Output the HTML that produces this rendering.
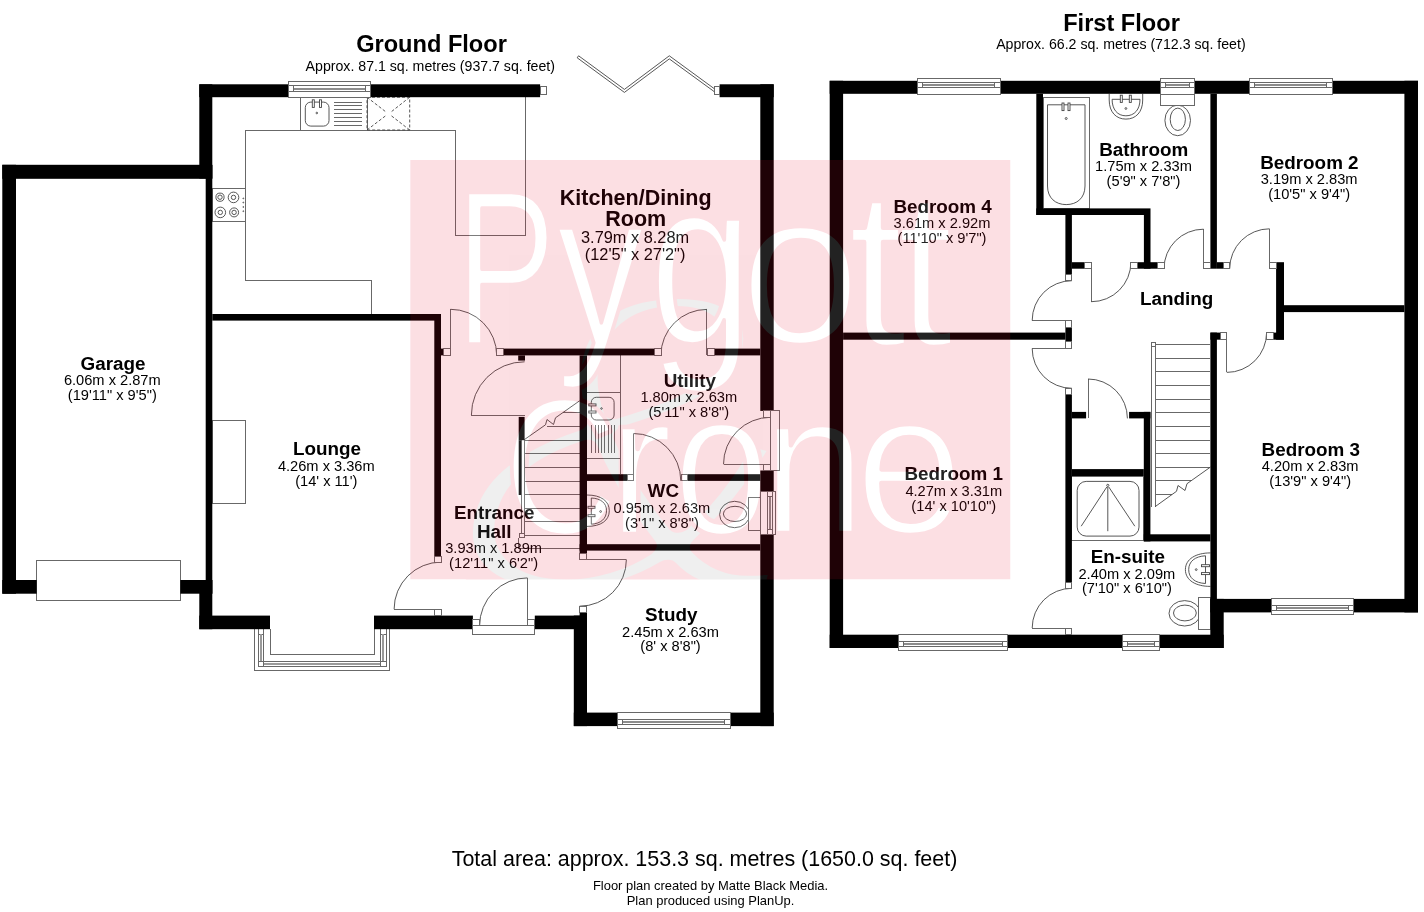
<!DOCTYPE html>
<html lang="en"><head><meta charset="utf-8"><title>Floor plan</title>
<style>
html,body{margin:0;padding:0;background:#fff;}
body{width:1424px;height:912px;overflow:hidden;}
svg{display:block;}
text{font-family:"Liberation Sans",Arial,Helvetica,sans-serif;fill:#000;}
.t{font-weight:bold;font-size:23.6px;}
.s{font-size:14.17px;}
.r{font-weight:bold;font-size:18.85px;}.rk{font-weight:bold;font-size:21.5px;}.dk{font-size:16.35px;}
.d{font-size:14.65px;}
</style></head><body>
<svg width="1424" height="912" viewBox="0 0 1424 912">
<rect width="1424" height="912" fill="#fff"/>
<g stroke="#444" stroke-width="0.9" fill="none">
<path d="M245.6 130H455.7V235.3H525.6V97.2" fill="none" shape-rendering="crispEdges" stroke="#686868" stroke-width="1"/>
<path d="M245.6 130V280H371V314" fill="none" shape-rendering="crispEdges" stroke="#686868" stroke-width="1"/>
<rect x="300.3" y="97.2" width="66.7" height="32.8" fill="none" shape-rendering="crispEdges"  stroke="#686868" stroke-width="1"/>
<rect x="305.3" y="102.1" width="23.7" height="24" rx="5.5" ry="5.5"/>
<line x1="333.7" y1="102.1" x2="362.3" y2="102.1" shape-rendering="crispEdges"  stroke="#686868" stroke-width="1"/>
<line x1="333.7" y1="105.9" x2="362.3" y2="105.9" shape-rendering="crispEdges"  stroke="#686868" stroke-width="1"/>
<line x1="333.7" y1="109.8" x2="362.3" y2="109.8" shape-rendering="crispEdges"  stroke="#686868" stroke-width="1"/>
<line x1="333.7" y1="113.7" x2="362.3" y2="113.7" shape-rendering="crispEdges"  stroke="#686868" stroke-width="1"/>
<line x1="333.7" y1="117.6" x2="362.3" y2="117.6" shape-rendering="crispEdges"  stroke="#686868" stroke-width="1"/>
<line x1="333.7" y1="121.5" x2="362.3" y2="121.5" shape-rendering="crispEdges"  stroke="#686868" stroke-width="1"/>
<line x1="333.7" y1="125.4" x2="362.3" y2="125.4" shape-rendering="crispEdges"  stroke="#686868" stroke-width="1"/>
<rect x="312.3" y="99.8" width="2" height="7.6" fill="#fff"/>
<rect x="319.5" y="99.8" width="2" height="7.6" fill="#fff"/>
<circle cx="316.8" cy="113" r="0.8"/>
<g stroke-dasharray="3 2"><rect x="367" y="97.2" width="42.7" height="32.8"/><path d="M367 97.2L386 112M409.7 97.2L391 112M367 130L386 115.5M409.7 130L391 115.5"/></g>
<rect x="212.3" y="188.5" width="33.3" height="32.9" fill="none" shape-rendering="crispEdges"  stroke="#686868" stroke-width="1"/>
<circle cx="220" cy="197.2" r="4.1"/><circle cx="220" cy="197.2" r="2.2"/>
<circle cx="233.5" cy="197.4" r="5.3"/><circle cx="233.5" cy="197.4" r="2.2"/>
<circle cx="220.3" cy="212.4" r="5.3"/><circle cx="220.3" cy="212.4" r="2.2"/>
<circle cx="234.1" cy="212.4" r="4.5"/><circle cx="234.1" cy="212.4" r="2.2"/>
<circle cx="243.3" cy="198.4" r="0.45"/>
<circle cx="243.3" cy="202.5" r="0.45"/>
<circle cx="243.3" cy="207" r="0.45"/>
<circle cx="243.3" cy="211.2" r="0.45"/>
<rect x="212.3" y="420.0" width="33.3" height="83.3" fill="none" shape-rendering="crispEdges"  stroke="#686868" stroke-width="1"/>
<path d="M587 392.2H620M620 355.4V474.2M587 458.8H620" fill="none" shape-rendering="crispEdges" stroke="#686868" stroke-width="1"/>
<rect x="591.3" y="397.3" width="22.8" height="22.7" rx="5" ry="5"/>
<line x1="591.8" y1="425.3" x2="591.8" y2="453.2" shape-rendering="crispEdges"  stroke="#686868" stroke-width="1"/>
<line x1="595.0" y1="425.3" x2="595.0" y2="453.2" shape-rendering="crispEdges"  stroke="#686868" stroke-width="1"/>
<line x1="598.3" y1="425.3" x2="598.3" y2="453.2" shape-rendering="crispEdges"  stroke="#686868" stroke-width="1"/>
<line x1="601.5" y1="425.3" x2="601.5" y2="453.2" shape-rendering="crispEdges"  stroke="#686868" stroke-width="1"/>
<line x1="604.8" y1="425.3" x2="604.8" y2="453.2" shape-rendering="crispEdges"  stroke="#686868" stroke-width="1"/>
<line x1="608.0" y1="425.3" x2="608.0" y2="453.2" shape-rendering="crispEdges"  stroke="#686868" stroke-width="1"/>
<line x1="611.3" y1="425.3" x2="611.3" y2="453.2" shape-rendering="crispEdges"  stroke="#686868" stroke-width="1"/>
<line x1="614.5" y1="425.3" x2="614.5" y2="453.2" shape-rendering="crispEdges"  stroke="#686868" stroke-width="1"/>
<rect x="588.8" y="403.9" width="7.2" height="2" fill="#fff"/>
<rect x="588.8" y="411" width="7.2" height="2" fill="#fff"/>
<circle cx="601.5" cy="408.5" r="0.8"/>
<path d="M587 495C601 495 609.3 501 609.3 510.7C609.3 520.5 601 526.4 587 526.4" fill="none"/>
<path d="M591.3 498C601 498.5 606.5 503 606.5 510.7C606.5 518.5 601 523.7 591.3 524.2Z" fill="none"/>
<rect x="588" y="506.3" width="7" height="2" fill="#fff"/>
<rect x="588" y="514.7" width="7" height="2" fill="#fff"/>
<circle cx="600.6" cy="511.5" r="0.9"/>
<ellipse cx="734.6" cy="514.5" rx="15" ry="13.2" fill="#fff"/>
<ellipse cx="735" cy="513.9" rx="11.6" ry="7.6"/>
<rect x="748.6" y="497.1" width="11.7" height="33.2" fill="#fff" shape-rendering="crispEdges"  stroke="#686868" stroke-width="1"/>
<path d="M524.1 440.2V535M521.2 440.2V535" fill="none" shape-rendering="crispEdges" stroke="#686868" stroke-width="1"/>
<line x1="524.1" y1="440.2" x2="579.6" y2="440.2" shape-rendering="crispEdges"  stroke="#686868" stroke-width="1"/>
<line x1="524.1" y1="453.7" x2="579.6" y2="453.7" shape-rendering="crispEdges"  stroke="#686868" stroke-width="1"/>
<line x1="524.1" y1="467.2" x2="579.6" y2="467.2" shape-rendering="crispEdges"  stroke="#686868" stroke-width="1"/>
<line x1="524.1" y1="481.1" x2="579.6" y2="481.1" shape-rendering="crispEdges"  stroke="#686868" stroke-width="1"/>
<line x1="524.1" y1="494.6" x2="579.6" y2="494.6" shape-rendering="crispEdges"  stroke="#686868" stroke-width="1"/>
<line x1="524.1" y1="508.1" x2="579.6" y2="508.1" shape-rendering="crispEdges"  stroke="#686868" stroke-width="1"/>
<line x1="524.1" y1="521.3" x2="579.6" y2="521.3" shape-rendering="crispEdges"  stroke="#686868" stroke-width="1"/>
<line x1="524.1" y1="535.1" x2="579.6" y2="535.1" shape-rendering="crispEdges"  stroke="#686868" stroke-width="1"/>
<line x1="518.3" y1="548.4" x2="579.6" y2="548.4" shape-rendering="crispEdges"  stroke="#686868" stroke-width="1"/>
<line x1="518.3" y1="537.7" x2="518.3" y2="548.4" shape-rendering="crispEdges"  stroke="#686868" stroke-width="1"/>
<line x1="546.5" y1="426.0" x2="579.6" y2="426.0" shape-rendering="crispEdges"  stroke="#686868" stroke-width="1"/>
<line x1="562.6" y1="412.5" x2="579.6" y2="412.5" shape-rendering="crispEdges"  stroke="#686868" stroke-width="1"/>
<path d="M524.1 439.8L545.5 424.8L547 419.5L553.5 424.5L555.5 417.8L579.6 400.8" fill="none"/>
<rect x="519.5" y="533.4" width="5.1" height="4.5" fill="#fff" shape-rendering="crispEdges"  stroke="#686868" stroke-width="1"/>
<path d="M254.4 629.2V670.7H389.7V629.2" fill="none" shape-rendering="crispEdges" stroke="#686868" stroke-width="1"/>
<path d="M270.1 629.2V654.6H374.3V629.2" fill="none" shape-rendering="crispEdges" stroke="#686868" stroke-width="1"/>
<path d="M258.3 629.2V666.7H386.1V629.2" fill="none" shape-rendering="crispEdges" stroke="#686868" stroke-width="1"/>
<line x1="263.6" y1="629.2" x2="263.6" y2="666.7" shape-rendering="crispEdges"  stroke="#686868" stroke-width="1"/>
<line x1="380.4" y1="629.2" x2="380.4" y2="666.7" shape-rendering="crispEdges"  stroke="#686868" stroke-width="1"/>
<line x1="258.3" y1="661.1" x2="386.1" y2="661.1" shape-rendering="crispEdges"  stroke="#686868" stroke-width="1"/>
<line x1="258.3" y1="634.2" x2="263.6" y2="634.2" shape-rendering="crispEdges"  stroke="#686868" stroke-width="1"/>
<line x1="380.4" y1="634.2" x2="386.1" y2="634.2" shape-rendering="crispEdges"  stroke="#686868" stroke-width="1"/>
<line x1="260.9" y1="634.2" x2="260.9" y2="661.1" shape-rendering="crispEdges" stroke="#9a9a9a" stroke-width="1.6"/>
<line x1="383.2" y1="634.2" x2="383.2" y2="661.1" shape-rendering="crispEdges" stroke="#9a9a9a" stroke-width="1.6"/>
<line x1="263.6" y1="663.9" x2="380.4" y2="663.9" shape-rendering="crispEdges" stroke="#9a9a9a" stroke-width="1.6"/>
<path d="M578.6 55.8L624.4 89.4L669.3 55.8L715.5 89.6L714.2 91.6L669.3 58.9L624.4 92.4L577.2 57.8Z" fill="#fff"/>
<rect x="36.7" y="560.0" width="143.6" height="40.0" fill="#fff" shape-rendering="crispEdges"  stroke="#686868" stroke-width="1"/>
<rect x="1043.0" y="97.8" width="46.6" height="110.6" fill="none" shape-rendering="crispEdges"  stroke="#686868" stroke-width="1"/>
<path d="M1047.5 104.8H1085V186C1085 198 1077 204.6 1066.2 204.6C1055.5 204.6 1047.5 198 1047.5 186Z" fill="none"/>
<rect x="1062" y="103" width="2" height="7.6" fill="#fff"/>
<rect x="1068" y="103" width="2" height="7.6" fill="#fff"/>
<circle cx="1066.2" cy="118.5" r="1"/>
<path d="M1109.2 93.8V100C1109.2 112 1116 119.1 1125.9 119.1C1136 119.1 1142.7 112 1142.7 100V93.8" fill="none"/>
<path d="M1112.1 99.3H1140C1140 109.5 1134.5 115.8 1125.9 115.8C1117.5 115.8 1112.1 109.5 1112.1 99.3Z" fill="none"/>
<rect x="1120.3" y="95.2" width="2" height="7.2" fill="#fff"/>
<rect x="1129.3" y="95.2" width="2" height="7.2" fill="#fff"/>
<circle cx="1125.9" cy="108.5" r="0.9"/>
<ellipse cx="1177.7" cy="120.4" rx="12.8" ry="15.3" fill="#fff"/>
<ellipse cx="1177.8" cy="119.3" rx="7.6" ry="11.2"/>
<rect x="1160.7" y="93.8" width="33.3" height="11.4" fill="#fff" shape-rendering="crispEdges"  stroke="#686868" stroke-width="1"/>
<rect x="1071.9" y="476.0" width="71.9" height="64.6" fill="none" shape-rendering="crispEdges"  stroke="#686868" stroke-width="1"/>
<rect x="1077.2" y="481.4" width="61.8" height="54.7" rx="9" ry="9"/>
<circle cx="1107.8" cy="485.4" r="1.1"/>
<path d="M1107.8 487V531.2M1106.8 487L1081.2 526.2M1108.8 487L1134.8 526.2" fill="none"/>
<path d="M1210.4 552.9C1196 552.9 1185.4 559 1185.4 569.6C1185.4 580.5 1196 586.4 1210.4 586.4" fill="none"/>
<path d="M1205.5 555.8C1195 556.3 1188.7 561.5 1188.7 569.6C1188.7 578 1195 583 1205.5 583.5Z" fill="none"/>
<rect x="1201.5" y="564.7" width="8" height="2" fill="#fff"/>
<rect x="1201.5" y="572.6" width="8" height="2" fill="#fff"/>
<circle cx="1196.2" cy="569.6" r="0.9"/>
<ellipse cx="1184.7" cy="613.3" rx="15.7" ry="12.7" fill="#fff"/>
<ellipse cx="1184.9" cy="613" rx="11.4" ry="7.9"/>
<rect x="1198.6" y="597.3" width="11.8" height="32.5" fill="#fff" shape-rendering="crispEdges"  stroke="#686868" stroke-width="1"/>
<path d="M1151.8 346.4V506.6M1155.2 346.4V506.6" fill="none" shape-rendering="crispEdges" stroke="#686868" stroke-width="1"/>
<line x1="1155.2" y1="344.8" x2="1210.4" y2="344.8" shape-rendering="crispEdges"  stroke="#686868" stroke-width="1"/>
<line x1="1155.2" y1="358.2" x2="1210.4" y2="358.2" shape-rendering="crispEdges"  stroke="#686868" stroke-width="1"/>
<line x1="1155.2" y1="371.8" x2="1210.4" y2="371.8" shape-rendering="crispEdges"  stroke="#686868" stroke-width="1"/>
<line x1="1155.2" y1="385.6" x2="1210.4" y2="385.6" shape-rendering="crispEdges"  stroke="#686868" stroke-width="1"/>
<line x1="1155.2" y1="399.1" x2="1210.4" y2="399.1" shape-rendering="crispEdges"  stroke="#686868" stroke-width="1"/>
<line x1="1155.2" y1="412.9" x2="1210.4" y2="412.9" shape-rendering="crispEdges"  stroke="#686868" stroke-width="1"/>
<line x1="1155.2" y1="426.7" x2="1210.4" y2="426.7" shape-rendering="crispEdges"  stroke="#686868" stroke-width="1"/>
<line x1="1155.2" y1="440.1" x2="1210.4" y2="440.1" shape-rendering="crispEdges"  stroke="#686868" stroke-width="1"/>
<line x1="1155.2" y1="453.7" x2="1210.4" y2="453.7" shape-rendering="crispEdges"  stroke="#686868" stroke-width="1"/>
<line x1="1155.2" y1="467.1" x2="1210.4" y2="467.1" shape-rendering="crispEdges"  stroke="#686868" stroke-width="1"/>
<line x1="1155.2" y1="480.7" x2="1191.4" y2="480.7" shape-rendering="crispEdges"  stroke="#686868" stroke-width="1"/>
<line x1="1155.2" y1="494.3" x2="1172.4" y2="494.3" shape-rendering="crispEdges"  stroke="#686868" stroke-width="1"/>
<path d="M1155.2 506.6L1176.5 491.3L1178 485.5L1185 490.5L1187 483.7L1210.4 467.1" fill="none"/>
<rect x="1151.8" y="342.5" width="4.0" height="3.9" fill="#fff" shape-rendering="crispEdges"  stroke="#686868" stroke-width="1"/>
</g>
<g stroke="#444" stroke-width="0.9" fill="none">
<line x1="450.6" y1="355.4" x2="450.6" y2="309.3" shape-rendering="crispEdges"  stroke="#686868" stroke-width="1"/>
<path d="M450.6 309.3A46.1 46.1 0 0 1 496.7 355.4" fill="none"/>
<line x1="524.6" y1="415.0" x2="471.4" y2="415.0" shape-rendering="crispEdges"  stroke="#686868" stroke-width="1"/>
<path d="M471.4 415.0A53.2 53.2 0 0 1 524.6 361.8" fill="none"/>
<line x1="706.9" y1="355.4" x2="706.9" y2="309.4" shape-rendering="crispEdges"  stroke="#686868" stroke-width="1"/>
<path d="M706.9 309.4A46.0 46.0 0 0 0 660.9 355.4" fill="none"/>
<line x1="633.4" y1="480.9" x2="633.4" y2="433.5" shape-rendering="crispEdges"  stroke="#686868" stroke-width="1"/>
<path d="M633.4 433.5A47.4 47.4 0 0 1 680.8 480.9" fill="none"/>
<line x1="770.5" y1="464.3" x2="723.5" y2="464.3" shape-rendering="crispEdges"  stroke="#686868" stroke-width="1"/>
<path d="M723.5 464.3A47.0 47.0 0 0 1 770.5 417.3" fill="none"/>
<line x1="441.2" y1="609.2" x2="394.1" y2="609.2" shape-rendering="crispEdges"  stroke="#686868" stroke-width="1"/>
<path d="M394.1 609.2A47.1 47.1 0 0 1 441.2 562.1" fill="none"/>
<line x1="527.4" y1="625.7" x2="527.4" y2="577.9" shape-rendering="crispEdges"  stroke="#686868" stroke-width="1"/>
<path d="M527.4 577.9A47.8 47.8 0 0 0 479.6 625.7" fill="none"/>
<line x1="579.6" y1="559.4" x2="626.4" y2="559.4" shape-rendering="crispEdges"  stroke="#686868" stroke-width="1"/>
<path d="M626.4 559.4A46.8 46.8 0 0 1 579.6 606.2" fill="none"/>
<line x1="1091.4" y1="262.2" x2="1091.4" y2="301.7" shape-rendering="crispEdges"  stroke="#686868" stroke-width="1"/>
<path d="M1091.4 301.7A39.5 39.5 0 0 0 1130.9 262.2" fill="none"/>
<line x1="1203.5" y1="268.7" x2="1203.5" y2="229.2" shape-rendering="crispEdges"  stroke="#686868" stroke-width="1"/>
<path d="M1203.5 229.2A39.5 39.5 0 0 0 1164.0 268.7" fill="none"/>
<line x1="1269.6" y1="268.7" x2="1269.6" y2="228.8" shape-rendering="crispEdges"  stroke="#686868" stroke-width="1"/>
<path d="M1269.6 228.8A39.9 39.9 0 0 0 1229.7 268.7" fill="none"/>
<line x1="1226.8" y1="332.6" x2="1226.8" y2="372.4" shape-rendering="crispEdges"  stroke="#686868" stroke-width="1"/>
<path d="M1226.8 372.4A39.8 39.8 0 0 0 1266.6 332.6" fill="none"/>
<line x1="1071.9" y1="320.4" x2="1032.2" y2="320.4" shape-rendering="crispEdges"  stroke="#686868" stroke-width="1"/>
<path d="M1032.2 320.4A39.7 39.7 0 0 1 1071.9 280.7" fill="none"/>
<line x1="1071.9" y1="348.6" x2="1032.2" y2="348.6" shape-rendering="crispEdges"  stroke="#686868" stroke-width="1"/>
<path d="M1032.2 348.6A39.7 39.7 0 0 0 1071.9 388.3" fill="none"/>
<line x1="1088.0" y1="418.4" x2="1088.0" y2="379.0" shape-rendering="crispEdges"  stroke="#686868" stroke-width="1"/>
<path d="M1088.0 379.0A39.4 39.4 0 0 1 1127.4 418.4" fill="none"/>
<line x1="1071.9" y1="628.0" x2="1032.2" y2="628.0" shape-rendering="crispEdges"  stroke="#686868" stroke-width="1"/>
<path d="M1032.2 628.0A39.7 39.7 0 0 1 1071.9 588.3" fill="none"/>
</g>
<g fill="#000" stroke="none">
<rect x="199.3" y="84.3" width="89.1" height="12.9"/>
<rect x="370.7" y="84.3" width="169.4" height="12.9"/>
<rect x="719.6" y="84.3" width="54.1" height="12.9"/>
<rect x="199.3" y="84.3" width="13.0" height="94.2"/>
<rect x="205.7" y="165.0" width="6.6" height="428.7"/>
<rect x="199.3" y="580.0" width="13.0" height="49.2"/>
<rect x="2.3" y="164.8" width="210.0" height="14.0"/>
<rect x="2.3" y="164.8" width="13.7" height="428.9"/>
<rect x="2.3" y="580.0" width="34.4" height="13.7"/>
<rect x="180.3" y="580.0" width="32.0" height="13.7"/>
<rect x="199.3" y="615.6" width="70.7" height="13.6"/>
<rect x="374.0" y="615.6" width="98.9" height="13.6"/>
<rect x="534.8" y="615.6" width="52.2" height="13.6"/>
<rect x="573.8" y="615.6" width="13.2" height="110.5"/>
<rect x="579.6" y="612.9" width="7.4" height="3.1"/>
<rect x="573.8" y="712.6" width="43.5" height="13.5"/>
<rect x="730.0" y="712.6" width="43.7" height="13.5"/>
<rect x="760.3" y="84.3" width="13.4" height="326.6"/>
<rect x="760.3" y="470.5" width="13.4" height="21.0"/>
<rect x="760.3" y="534.4" width="13.4" height="191.7"/>
<rect x="212.3" y="314.0" width="228.7" height="6.6"/>
<rect x="434.3" y="314.0" width="6.7" height="242.0"/>
<rect x="441.0" y="348.6" width="2.9" height="6.8"/>
<rect x="503.0" y="348.6" width="151.7" height="6.8"/>
<rect x="714.0" y="348.6" width="46.3" height="6.8"/>
<rect x="518.2" y="355.4" width="6.8" height="5.2"/>
<rect x="579.6" y="355.4" width="7.4" height="198.3"/>
<rect x="579.6" y="544.2" width="180.7" height="6.4"/>
<rect x="587.0" y="474.2" width="40.5" height="6.7"/>
<rect x="687.1" y="474.2" width="73.2" height="6.7"/>
<rect x="518.7" y="416.9" width="5.9" height="23.3"/>
<rect x="518.7" y="440.2" width="2.5" height="54.8"/>
<rect x="829.7" y="80.8" width="87.9" height="13.0"/>
<rect x="1000.0" y="80.8" width="160.1" height="13.0"/>
<rect x="1194.5" y="80.8" width="54.5" height="13.0"/>
<rect x="1332.1" y="80.8" width="85.9" height="13.0"/>
<rect x="829.7" y="80.8" width="13.4" height="567.2"/>
<rect x="829.7" y="634.7" width="68.8" height="13.3"/>
<rect x="1007.8" y="634.7" width="114.4" height="13.3"/>
<rect x="1159.6" y="634.7" width="64.1" height="13.3"/>
<rect x="1404.4" y="80.8" width="13.6" height="531.6"/>
<rect x="1210.3" y="598.9" width="60.7" height="13.5"/>
<rect x="1353.7" y="598.9" width="64.3" height="13.5"/>
<rect x="1210.3" y="598.9" width="13.4" height="49.1"/>
<rect x="1036.3" y="93.8" width="6.7" height="121.2"/>
<rect x="1036.3" y="208.4" width="114.2" height="6.6"/>
<rect x="1065.4" y="215.0" width="6.5" height="59.0"/>
<rect x="1071.9" y="262.2" width="12.8" height="6.5"/>
<rect x="1143.9" y="215.0" width="6.6" height="53.7"/>
<rect x="1137.4" y="262.2" width="19.7" height="6.5"/>
<rect x="1210.4" y="93.8" width="6.5" height="174.9"/>
<rect x="1216.9" y="262.2" width="6.3" height="6.5"/>
<rect x="1276.1" y="262.2" width="7.9" height="77.5"/>
<rect x="1284.0" y="305.2" width="120.4" height="6.9"/>
<rect x="1273.2" y="332.6" width="10.8" height="7.1"/>
<rect x="1210.4" y="332.6" width="6.5" height="266.4"/>
<rect x="1210.4" y="332.6" width="9.9" height="7.1"/>
<rect x="843.1" y="332.6" width="222.3" height="7.1"/>
<rect x="1065.4" y="327.3" width="6.5" height="14.6"/>
<rect x="1065.4" y="394.7" width="6.5" height="187.4"/>
<rect x="1071.9" y="411.9" width="14.2" height="6.5"/>
<rect x="1129.1" y="411.9" width="21.3" height="6.5"/>
<rect x="1143.8" y="411.9" width="6.6" height="129.5"/>
<rect x="1071.9" y="469.1" width="71.9" height="6.9"/>
<rect x="1143.8" y="534.3" width="66.6" height="7.1"/>
</g>
<g stroke="#444" stroke-width="0.9" fill="#fff">
<rect x="443.9" y="348.6" width="6.7" height="6.8" fill="#fff" shape-rendering="crispEdges"  stroke="#686868" stroke-width="1"/>
<rect x="496.7" y="348.6" width="6.3" height="6.8" fill="#fff" shape-rendering="crispEdges"  stroke="#686868" stroke-width="1"/>
<rect x="654.7" y="348.6" width="6.3" height="6.8" fill="#fff" shape-rendering="crispEdges"  stroke="#686868" stroke-width="1"/>
<rect x="707.3" y="348.6" width="6.7" height="6.8" fill="#fff" shape-rendering="crispEdges"  stroke="#686868" stroke-width="1"/>
<rect x="627.5" y="474.2" width="5.9" height="6.7" fill="#fff" shape-rendering="crispEdges"  stroke="#686868" stroke-width="1"/>
<rect x="681.1" y="474.2" width="6.0" height="6.7" fill="#fff" shape-rendering="crispEdges"  stroke="#686868" stroke-width="1"/>
<rect x="434.6" y="556.0" width="6.6" height="6.3" fill="#fff" shape-rendering="crispEdges"  stroke="#686868" stroke-width="1"/>
<rect x="434.6" y="609.2" width="6.6" height="6.4" fill="#fff" shape-rendering="crispEdges"  stroke="#686868" stroke-width="1"/>
<rect x="579.6" y="553.7" width="7.0" height="5.7" fill="#fff" shape-rendering="crispEdges"  stroke="#686868" stroke-width="1"/>
<rect x="579.6" y="606.8" width="7.0" height="6.1" fill="#fff" shape-rendering="crispEdges"  stroke="#686868" stroke-width="1"/>
<rect x="540.1" y="86.7" width="5.9" height="7.9" fill="#fff" shape-rendering="crispEdges"  stroke="#686868" stroke-width="1"/>
<rect x="714.1" y="86.7" width="5.5" height="7.9" fill="#fff" shape-rendering="crispEdges"  stroke="#686868" stroke-width="1"/>
<rect x="472.9" y="625.7" width="61.9" height="8.6" fill="#fff" shape-rendering="crispEdges"  stroke="#686868" stroke-width="1"/>
<rect x="472.9" y="619.0" width="6.9" height="6.7" fill="#fff" shape-rendering="crispEdges"  stroke="#686868" stroke-width="1"/>
<rect x="527.4" y="619.0" width="7.4" height="6.7" fill="#fff" shape-rendering="crispEdges"  stroke="#686868" stroke-width="1"/>
<rect x="770.5" y="410.9" width="9.2" height="59.6" fill="#fff" shape-rendering="crispEdges"  stroke="#686868" stroke-width="1"/>
<rect x="763.5" y="410.9" width="7.0" height="6.1" fill="#fff" shape-rendering="crispEdges"  stroke="#686868" stroke-width="1"/>
<rect x="763.5" y="464.5" width="7.0" height="6.0" fill="#fff" shape-rendering="crispEdges"  stroke="#686868" stroke-width="1"/>
<rect x="760.5" y="491.8" width="15.3" height="42.5" fill="#fff" shape-rendering="crispEdges"  stroke="#686868" stroke-width="1"/>
<line x1="767.3" y1="491.8" x2="767.3" y2="534.3" shape-rendering="crispEdges"  stroke="#686868" stroke-width="1"/>
<line x1="772.5" y1="491.8" x2="772.5" y2="534.3" shape-rendering="crispEdges"  stroke="#686868" stroke-width="1"/>
<line x1="769.9" y1="496.8" x2="769.9" y2="529.3" shape-rendering="crispEdges" stroke="#8c8c8c" stroke-width="2"/>
<line x1="767.3" y1="496.8" x2="772.5" y2="496.8" shape-rendering="crispEdges"  stroke="#686868" stroke-width="1"/>
<line x1="767.3" y1="529.3" x2="772.5" y2="529.3" shape-rendering="crispEdges"  stroke="#686868" stroke-width="1"/>
<rect x="288.4" y="81.6" width="82.3" height="15.9" fill="#fff" shape-rendering="crispEdges"  stroke="#686868" stroke-width="1"/>
<line x1="288.4" y1="85.9" x2="370.7" y2="85.9" shape-rendering="crispEdges"  stroke="#686868" stroke-width="1"/>
<line x1="288.4" y1="91.1" x2="370.7" y2="91.1" shape-rendering="crispEdges"  stroke="#686868" stroke-width="1"/>
<line x1="293.4" y1="88.5" x2="365.4" y2="88.5" shape-rendering="crispEdges" stroke="#8c8c8c" stroke-width="2"/>
<line x1="293.4" y1="85.9" x2="293.4" y2="91.1" shape-rendering="crispEdges"  stroke="#686868" stroke-width="1"/>
<line x1="365.4" y1="85.9" x2="365.4" y2="91.1" shape-rendering="crispEdges"  stroke="#686868" stroke-width="1"/>
<rect x="617.6" y="712.6" width="112.6" height="15.7" fill="#fff" shape-rendering="crispEdges"  stroke="#686868" stroke-width="1"/>
<line x1="617.6" y1="719.4" x2="730.2" y2="719.4" shape-rendering="crispEdges"  stroke="#686868" stroke-width="1"/>
<line x1="617.6" y1="724.6" x2="730.2" y2="724.6" shape-rendering="crispEdges"  stroke="#686868" stroke-width="1"/>
<line x1="622.6" y1="722.0" x2="724.9" y2="722.0" shape-rendering="crispEdges" stroke="#8c8c8c" stroke-width="2"/>
<line x1="622.6" y1="719.4" x2="622.6" y2="724.6" shape-rendering="crispEdges"  stroke="#686868" stroke-width="1"/>
<line x1="724.9" y1="719.4" x2="724.9" y2="724.6" shape-rendering="crispEdges"  stroke="#686868" stroke-width="1"/>
<rect x="917.6" y="78.1" width="82.4" height="16.0" fill="#fff" shape-rendering="crispEdges"  stroke="#686868" stroke-width="1"/>
<line x1="917.6" y1="82.4" x2="1000.0" y2="82.4" shape-rendering="crispEdges"  stroke="#686868" stroke-width="1"/>
<line x1="917.6" y1="87.6" x2="1000.0" y2="87.6" shape-rendering="crispEdges"  stroke="#686868" stroke-width="1"/>
<line x1="922.6" y1="85.0" x2="994.7" y2="85.0" shape-rendering="crispEdges" stroke="#8c8c8c" stroke-width="2"/>
<line x1="922.6" y1="82.4" x2="922.6" y2="87.6" shape-rendering="crispEdges"  stroke="#686868" stroke-width="1"/>
<line x1="994.7" y1="82.4" x2="994.7" y2="87.6" shape-rendering="crispEdges"  stroke="#686868" stroke-width="1"/>
<rect x="1160.1" y="78.1" width="34.4" height="16.0" fill="#fff" shape-rendering="crispEdges"  stroke="#686868" stroke-width="1"/>
<line x1="1160.1" y1="82.4" x2="1194.5" y2="82.4" shape-rendering="crispEdges"  stroke="#686868" stroke-width="1"/>
<line x1="1160.1" y1="87.6" x2="1194.5" y2="87.6" shape-rendering="crispEdges"  stroke="#686868" stroke-width="1"/>
<line x1="1165.1" y1="85.0" x2="1189.2" y2="85.0" shape-rendering="crispEdges" stroke="#8c8c8c" stroke-width="2"/>
<line x1="1165.1" y1="82.4" x2="1165.1" y2="87.6" shape-rendering="crispEdges"  stroke="#686868" stroke-width="1"/>
<line x1="1189.2" y1="82.4" x2="1189.2" y2="87.6" shape-rendering="crispEdges"  stroke="#686868" stroke-width="1"/>
<rect x="1249.0" y="78.1" width="83.1" height="16.0" fill="#fff" shape-rendering="crispEdges"  stroke="#686868" stroke-width="1"/>
<line x1="1249.0" y1="82.4" x2="1332.1" y2="82.4" shape-rendering="crispEdges"  stroke="#686868" stroke-width="1"/>
<line x1="1249.0" y1="87.6" x2="1332.1" y2="87.6" shape-rendering="crispEdges"  stroke="#686868" stroke-width="1"/>
<line x1="1254.0" y1="85.0" x2="1326.8" y2="85.0" shape-rendering="crispEdges" stroke="#8c8c8c" stroke-width="2"/>
<line x1="1254.0" y1="82.4" x2="1254.0" y2="87.6" shape-rendering="crispEdges"  stroke="#686868" stroke-width="1"/>
<line x1="1326.8" y1="82.4" x2="1326.8" y2="87.6" shape-rendering="crispEdges"  stroke="#686868" stroke-width="1"/>
<rect x="898.5" y="634.7" width="109.3" height="15.5" fill="#fff" shape-rendering="crispEdges"  stroke="#686868" stroke-width="1"/>
<line x1="898.5" y1="641.3" x2="1007.8" y2="641.3" shape-rendering="crispEdges"  stroke="#686868" stroke-width="1"/>
<line x1="898.5" y1="646.5" x2="1007.8" y2="646.5" shape-rendering="crispEdges"  stroke="#686868" stroke-width="1"/>
<line x1="903.5" y1="643.9" x2="1002.5" y2="643.9" shape-rendering="crispEdges" stroke="#8c8c8c" stroke-width="2"/>
<line x1="903.5" y1="641.3" x2="903.5" y2="646.5" shape-rendering="crispEdges"  stroke="#686868" stroke-width="1"/>
<line x1="1002.5" y1="641.3" x2="1002.5" y2="646.5" shape-rendering="crispEdges"  stroke="#686868" stroke-width="1"/>
<rect x="1122.2" y="634.7" width="37.4" height="15.5" fill="#fff" shape-rendering="crispEdges"  stroke="#686868" stroke-width="1"/>
<line x1="1122.2" y1="641.3" x2="1159.6" y2="641.3" shape-rendering="crispEdges"  stroke="#686868" stroke-width="1"/>
<line x1="1122.2" y1="646.5" x2="1159.6" y2="646.5" shape-rendering="crispEdges"  stroke="#686868" stroke-width="1"/>
<line x1="1127.2" y1="643.9" x2="1154.3" y2="643.9" shape-rendering="crispEdges" stroke="#8c8c8c" stroke-width="2"/>
<line x1="1127.2" y1="641.3" x2="1127.2" y2="646.5" shape-rendering="crispEdges"  stroke="#686868" stroke-width="1"/>
<line x1="1154.3" y1="641.3" x2="1154.3" y2="646.5" shape-rendering="crispEdges"  stroke="#686868" stroke-width="1"/>
<rect x="1271.0" y="598.9" width="82.7" height="15.7" fill="#fff" shape-rendering="crispEdges"  stroke="#686868" stroke-width="1"/>
<line x1="1271.0" y1="605.7" x2="1353.7" y2="605.7" shape-rendering="crispEdges"  stroke="#686868" stroke-width="1"/>
<line x1="1271.0" y1="610.9" x2="1353.7" y2="610.9" shape-rendering="crispEdges"  stroke="#686868" stroke-width="1"/>
<line x1="1276.0" y1="608.3" x2="1348.4" y2="608.3" shape-rendering="crispEdges" stroke="#8c8c8c" stroke-width="2"/>
<line x1="1276.0" y1="605.7" x2="1276.0" y2="610.9" shape-rendering="crispEdges"  stroke="#686868" stroke-width="1"/>
<line x1="1348.4" y1="605.7" x2="1348.4" y2="610.9" shape-rendering="crispEdges"  stroke="#686868" stroke-width="1"/>
<rect x="1065.4" y="274.0" width="6.5" height="6.9" fill="#fff" shape-rendering="crispEdges"  stroke="#686868" stroke-width="1"/>
<rect x="1084.7" y="262.2" width="6.7" height="6.5" fill="#fff" shape-rendering="crispEdges"  stroke="#686868" stroke-width="1"/>
<rect x="1130.9" y="262.2" width="6.5" height="6.5" fill="#fff" shape-rendering="crispEdges"  stroke="#686868" stroke-width="1"/>
<rect x="1157.1" y="262.2" width="6.9" height="6.5" fill="#fff" shape-rendering="crispEdges"  stroke="#686868" stroke-width="1"/>
<rect x="1203.5" y="262.2" width="6.9" height="6.5" fill="#fff" shape-rendering="crispEdges"  stroke="#686868" stroke-width="1"/>
<rect x="1223.2" y="262.2" width="6.5" height="6.5" fill="#fff" shape-rendering="crispEdges"  stroke="#686868" stroke-width="1"/>
<rect x="1269.6" y="262.2" width="6.5" height="6.5" fill="#fff" shape-rendering="crispEdges"  stroke="#686868" stroke-width="1"/>
<rect x="1220.3" y="332.6" width="6.5" height="7.1" fill="#fff" shape-rendering="crispEdges"  stroke="#686868" stroke-width="1"/>
<rect x="1266.6" y="332.6" width="6.6" height="7.1" fill="#fff" shape-rendering="crispEdges"  stroke="#686868" stroke-width="1"/>
<rect x="1065.4" y="320.4" width="6.5" height="6.9" fill="#fff" shape-rendering="crispEdges"  stroke="#686868" stroke-width="1"/>
<rect x="1065.4" y="341.9" width="6.5" height="6.7" fill="#fff" shape-rendering="crispEdges"  stroke="#686868" stroke-width="1"/>
<rect x="1065.4" y="388.2" width="6.5" height="6.5" fill="#fff" shape-rendering="crispEdges"  stroke="#686868" stroke-width="1"/>
<rect x="1065.4" y="582.1" width="6.5" height="6.3" fill="#fff" shape-rendering="crispEdges"  stroke="#686868" stroke-width="1"/>
<rect x="1065.8" y="628.2" width="6.1" height="6.5" fill="#fff" shape-rendering="crispEdges"  stroke="#686868" stroke-width="1"/>
</g>
<filter id="gs" filterUnits="userSpaceOnUse" x="0" y="0" width="1424" height="912" color-interpolation-filters="sRGB"><feColorMatrix type="saturate" values="0"/></filter>
<g filter="url(#gs)">
<text class="t" x="431.5" y="52.4" text-anchor="middle">Ground Floor</text>
<text class="s" x="430.3" y="70.7" text-anchor="middle">Approx. 87.1 sq. metres (937.7 sq. feet)</text>
<text class="t" x="1121.5" y="31" text-anchor="middle">First Floor</text>
<text class="s" x="1120.9" y="49" text-anchor="middle">Approx. 66.2 sq. metres (712.3 sq. feet)</text>
<text class="r" x="113.0" y="369.6" text-anchor="middle">Garage</text>
<text class="d" x="112.3" y="385.0" text-anchor="middle">6.06m x 2.87m</text>
<text class="d" x="112.3" y="400.1" text-anchor="middle">(19'11" x 9'5")</text>
<text class="r" x="327.0" y="455.3" text-anchor="middle">Lounge</text>
<text class="d" x="326.3" y="470.7" text-anchor="middle">4.26m x 3.36m</text>
<text class="d" x="326.3" y="485.9" text-anchor="middle">(14' x 11')</text>
<text class="rk" x="635.7" y="204.9" text-anchor="middle">Kitchen/Dining</text>
<text class="rk" x="635.7" y="225.9" text-anchor="middle">Room</text>
<text class="dk" x="635.1" y="243.3" text-anchor="middle">3.79m x 8.28m</text>
<text class="dk" x="635.1" y="260.2" text-anchor="middle">(12'5" x 27'2")</text>
<text class="r" x="689.9" y="386.8" text-anchor="middle">Utility</text>
<text class="d" x="688.8" y="402.4" text-anchor="middle">1.80m x 2.63m</text>
<text class="d" x="688.8" y="417.4" text-anchor="middle">(5'11" x 8'8")</text>
<text class="r" x="663.3" y="496.8" text-anchor="middle">WC</text>
<text class="d" x="661.9" y="512.6" text-anchor="middle">0.95m x 2.63m</text>
<text class="d" x="661.9" y="527.8" text-anchor="middle">(3'1" x 8'8")</text>
<text class="r" x="494.2" y="518.9" text-anchor="middle">Entrance</text>
<text class="r" x="494.2" y="537.6" text-anchor="middle">Hall</text>
<text class="d" x="493.6" y="552.7" text-anchor="middle">3.93m x 1.89m</text>
<text class="d" x="493.6" y="568.2" text-anchor="middle">(12'11" x 6'2")</text>
<text class="r" x="671.3" y="620.7" text-anchor="middle">Study</text>
<text class="d" x="670.5" y="636.5" text-anchor="middle">2.45m x 2.63m</text>
<text class="d" x="670.5" y="651.4" text-anchor="middle">(8' x 8'8")</text>
<text class="r" x="942.6" y="212.8" text-anchor="middle">Bedroom 4</text>
<text class="d" x="942.0" y="227.9" text-anchor="middle">3.61m x 2.92m</text>
<text class="d" x="942.0" y="242.8" text-anchor="middle">(11'10" x 9'7")</text>
<text class="r" x="1143.7" y="155.7" text-anchor="middle">Bathroom</text>
<text class="d" x="1143.5" y="171.2" text-anchor="middle">1.75m x 2.33m</text>
<text class="d" x="1143.5" y="186.4" text-anchor="middle">(5'9" x 7'8")</text>
<text class="r" x="1309.4" y="168.6" text-anchor="middle">Bedroom 2</text>
<text class="d" x="1309.1" y="184.0" text-anchor="middle">3.19m x 2.83m</text>
<text class="d" x="1309.1" y="198.8" text-anchor="middle">(10'5" x 9'4")</text>
<text class="r" x="1176.6" y="305.3" text-anchor="middle">Landing</text>
<text class="r" x="953.7" y="480.3" text-anchor="middle">Bedroom 1</text>
<text class="d" x="953.8" y="495.7" text-anchor="middle">4.27m x 3.31m</text>
<text class="d" x="953.8" y="511.2" text-anchor="middle">(14' x 10'10")</text>
<text class="r" x="1310.8" y="455.7" text-anchor="middle">Bedroom 3</text>
<text class="d" x="1310.1" y="471.1" text-anchor="middle">4.20m x 2.83m</text>
<text class="d" x="1310.1" y="486.2" text-anchor="middle">(13'9" x 9'4")</text>
<text class="r" x="1127.9" y="563.2" text-anchor="middle">En-suite</text>
<text class="d" x="1126.9" y="578.8" text-anchor="middle">2.40m x 2.09m</text>
<text class="d" x="1126.9" y="593.1" text-anchor="middle">(7'10" x 6'10")</text>
<text x="704.5" y="865.9" text-anchor="middle" style="font-size:21.46px">Total area: approx. 153.3 sq. metres (1650.0 sq. feet)</text>
<text x="710.5" y="890.1" text-anchor="middle" style="font-size:12.94px">Floor plan created by Matte Black Media.</text>
<text x="710.5" y="904.6" text-anchor="middle" style="font-size:12.94px">Plan produced using PlanUp.</text>
</g>
<clipPath id="wmc"><rect x="410.2" y="160" width="600.3" height="419.5"/></clipPath>
<g opacity="0.135" clip-path="url(#wmc)">
<rect x="410.2" y="160" width="600.3" height="419.5" fill="#e8102e"/>
<text transform="translate(425 594) skewX(-14) scale(1.22 1)" style="font-size:440px;fill:#858585;stroke:#e8102e;stroke-width:19px;stroke-linejoin:round">&amp;</text>
<text style="fill:#fff;stroke:#e8102e;stroke-width:4.6px;stroke-linejoin:round"><tspan x="455.2" y="344.3" textLength="100.8" lengthAdjust="spacingAndGlyphs" style="font-size:221.1px">P</tspan><tspan x="556.6" y="344.3" textLength="87.8" lengthAdjust="spacingAndGlyphs" style="font-size:218.2px">y</tspan><tspan x="649.2" y="344.3" textLength="103.9" lengthAdjust="spacingAndGlyphs" style="font-size:237.2px">g</tspan><tspan x="739.9" y="343.3" textLength="120.8" lengthAdjust="spacingAndGlyphs" style="font-size:216.5px">o</tspan><tspan x="847.7" y="345.0" textLength="59.8" lengthAdjust="spacingAndGlyphs" style="font-size:222.1px">t</tspan><tspan x="896.9" y="345.0" textLength="56.6" lengthAdjust="spacingAndGlyphs" style="font-size:222.1px">t</tspan></text>
<text style="fill:#fff;stroke:#e8102e;stroke-width:4.6px;stroke-linejoin:round"><tspan x="503.8" y="534.0" textLength="114.3" lengthAdjust="spacingAndGlyphs" style="font-size:195.1px">C</tspan><tspan x="607.3" y="534.0" textLength="65.7" lengthAdjust="spacingAndGlyphs" style="font-size:202.6px">r</tspan><tspan x="673.4" y="533.5" textLength="95.9" lengthAdjust="spacingAndGlyphs" style="font-size:205.3px">o</tspan><tspan x="762.2" y="532.5" textLength="103.4" lengthAdjust="spacingAndGlyphs" style="font-size:200.9px">n</tspan><tspan x="855.0" y="532.5" textLength="108.8" lengthAdjust="spacingAndGlyphs" style="font-size:202.6px">e</tspan></text>
</g>
</svg></body></html>
